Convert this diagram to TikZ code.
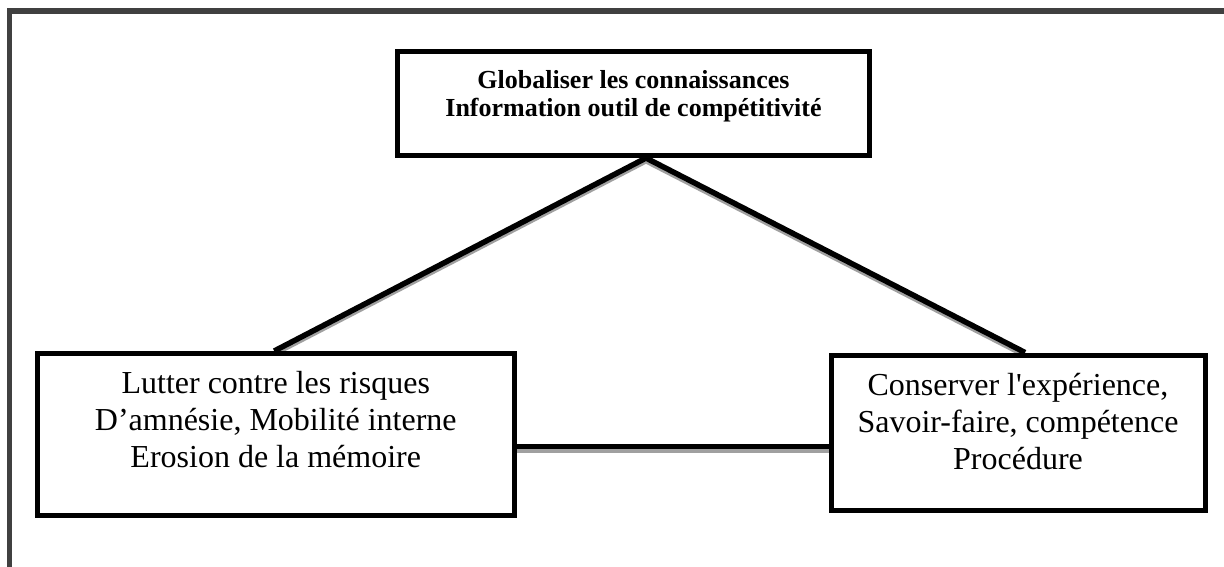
\documentclass[tikz,border=0pt]{standalone}
\usepackage{fontspec}
\setmainfont{Liberation Serif}
\usetikzlibrary{calc}
\definecolor{framegray}{HTML}{404040}
\definecolor{shadowgray}{HTML}{A0A0A0}
\pgfdeclarelayer{bg}
\pgfdeclarelayer{lines}
\pgfsetlayers{bg,lines,main}
\begin{document}
\begin{tikzpicture}[x=1pt,y=-1pt,
  box/.style={draw=black, line width=5pt, fill=white, inner sep=0pt},
  link/.style={line width=5.5pt, black},
  linkshadow/.style={line width=5pt, shadowgray},
  bigtext/.style={font=\fontsize{32}{36.7}\selectfont},
  toptext/.style={font=\bfseries\fontsize{26}{28}\selectfont}]
\useasboundingbox (0,0) rectangle (1224,566);
\begin{pgfonlayer}{bg}
  \fill[white] (0,0) rectangle (1224,566);
  \clip (0,0) rectangle (1224,566);
  \draw[framegray, line width=5.6pt] (9.5,620) -- (9.5,11.2) -- (1280,11.2);
\end{pgfonlayer}

\node[box, toptext, minimum width=472, minimum height=104.5, text height=33.5pt, text depth=8pt]
  (top) at (633.5,103.25)
  {\begin{tabular}[b]{@{}c@{}}Globaliser les connaissances\\Information outil de compétitivité\end{tabular}};

\node[box, bigtext, minimum width=476.5, minimum height=161.5, text height=75.5pt, text depth=10pt]
  (left) at (275.75,434.25)
  {\begin{tabular}[b]{@{}c@{}}Lutter contre les risques\\D’amnésie, Mobilité interne\\Erosion de la mémoire\end{tabular}};

\node[box, bigtext, minimum width=374, minimum height=155.5, text height=82.5pt, text depth=10pt]
  (right) at (1018,432.75)
  {\begin{tabular}[b]{@{}c@{}}Conserver l\textquotesingle expérience,\\Savoir-faire, compétence\\Procédure\end{tabular}};

\coordinate (apex) at ([xshift=12.5pt]top.south);
\coordinate (lefttop) at ([xshift=-1.5pt]left.north);
\coordinate (righttop) at ([xshift=7pt]right.north);
\coordinate (leftside) at ([yshift=-12pt]left.east);
\coordinate (rightside) at (right.west |- leftside);

\begin{pgfonlayer}{lines}
  \draw[linkshadow] ([yshift=-3pt]apex) -- ([yshift=-3pt]lefttop);
  \draw[linkshadow] ([yshift=-3pt]apex) -- ([yshift=-3pt]righttop);
  \draw[linkshadow] ([yshift=-4pt]leftside) -- ([yshift=-4pt]rightside);
  \draw[link] (apex) -- (lefttop);
  \draw[link] (apex) -- (righttop);
  \draw[link] (leftside) -- (rightside);
\end{pgfonlayer}
\end{tikzpicture}
\end{document}
